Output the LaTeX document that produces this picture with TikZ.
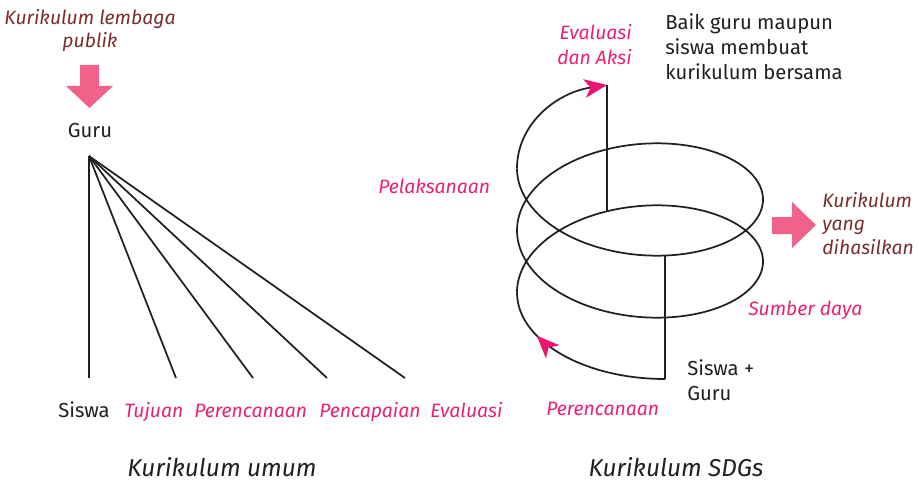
\documentclass[tikz,border=0pt]{standalone}
\usepackage{fontspec}
\setmainfont{Fira Sans}
\usetikzlibrary{arrows.meta,decorations.markings}
\definecolor{pinktxt}{RGB}{232,32,120}
\definecolor{pinkhead}{RGB}{235,20,110}
\definecolor{blockpink}{RGB}{240,98,138}
\definecolor{darkred}{RGB}{122,45,45}
\definecolor{ink}{RGB}{35,31,32}
\tikzset{
  txt/.style={anchor=base, inner sep=0pt, text=ink, font=\fontsize{15.2}{19}\selectfont},
  ptxt/.style={txt, text=pinktxt, font=\fontsize{14.5}{18}\selectfont\itshape},
  dtxt/.style={txt, text=darkred, font=\fontsize{14.5}{18}\selectfont\itshape},
  ttl/.style={txt, font=\fontsize{18.3}{22}\selectfont\itshape},
  ln/.style={draw=ink, line width=1.3pt},
  headtip/.tip={Stealth[length=17pt, width=14pt, inset=4.5pt, color=pinkhead]},
  blockarrow/.style={fill=blockpink}
}
\begin{document}
\begin{tikzpicture}[x=0.75pt, y=-0.75pt]
\useasboundingbox (0,0) rectangle (917,481);

% ---------- left: Kurikulum umum ----------
\node[dtxt] (kl1) at (90,25) {Kurikulum lembaga};
\node[dtxt] (kl2) at (90,48) {publik};
\fill[blockarrow] (80,65) -- (99,65) -- (99,86) -- (113,86) -- (89.5,108) -- (66,86) -- (80,86) -- cycle;
\node[txt] (guru) at (90,138) {Guru};

\coordinate (g) at (89,156);
\coordinate (e1) at (89,378);
\coordinate (e2) at (176,378);
\coordinate (e3) at (253,378);
\coordinate (e4) at (327,378);
\coordinate (e5) at (405,378);
\foreach \e in {e1,e2,e3,e4,e5} \draw[ln] (g) -- (\e);

\node[txt, anchor=base west] (siswa) at (58,417) {Siswa};
\node[ptxt, anchor=base west] (tuj) at (124,417) {Tujuan};
\node[ptxt, anchor=base west] (per) at (194,417) {Perencanaan};
\node[ptxt, anchor=base west] (pen) at (319,417) {Pencapaian};
\node[ptxt, anchor=base west] (eva) at (430,417) {Evaluasi};

\node[ttl] (tl) at (222,476) {Kurikulum umum};

% ---------- right: Kurikulum SDGs ----------
% bottom arc with mid arrow
\draw[ln, postaction={decorate}, decoration={markings,
   mark=at position 0.74 with {\arrow{headtip}}}]
  (665,379) .. controls (583.3,379) and (517,340.3) .. (517,292.5);
% helix
\draw[ln] plot[domain=0:12.5664, samples=300, smooth]
  ({640-123*cos(\x r)},{292.5-9.8676*\x-71*sin(\x r)});
% top arc with arrow
\coordinate (topend) at (607,85);
\draw[ln, -{headtip}] (517,168.5) .. controls (517,125) and (555,93) .. (topend);
% vertical lines
\coordinate (v1b) at (607,211);
\draw[ln] (topend) -- (v1b);
\coordinate (v2t) at (665,255.5);
\coordinate (v2b) at (665,379);
\draw[ln] (v2t) -- (v2b);

\node[ptxt, anchor=base east] (ev1) at (632,40) {Evaluasi};
\node[ptxt, anchor=base east] (ev2) at (632,65) {dan Aksi};

\node[txt, anchor=base west] (b1) at (665,30) {Baik guru maupun};
\node[txt, anchor=base west] (b2) at (665,55) {siswa membuat};
\node[txt, anchor=base west] (b3) at (665,80) {kurikulum bersama};

\node[ptxt, anchor=base west] (pel) at (378,194) {Pelaksanaan};

\fill[blockarrow] (772,217) -- (792,217) -- (792,202) -- (816,225) -- (792,248) -- (792,234) -- (772,234) -- cycle;
\node[dtxt, anchor=base west] (ky1) at (822,207) {Kurikulum};
\node[dtxt, anchor=base west] (ky2) at (822,230) {yang};
\node[dtxt, anchor=base west] (ky3) at (822,254) {dihasilkan};

\node[ptxt, anchor=base west] (sd) at (748,315) {Sumber daya};

\node[txt, anchor=base west] (sg1) at (687,375) {Siswa +};
\node[txt, anchor=base west] (sg2) at (687,400) {Guru};

\node[ptxt, anchor=base west] (per2) at (546,415) {Perencanaan};

\node[ttl] (tr) at (676,476) {Kurikulum SDGs};
\end{tikzpicture}
\end{document}
